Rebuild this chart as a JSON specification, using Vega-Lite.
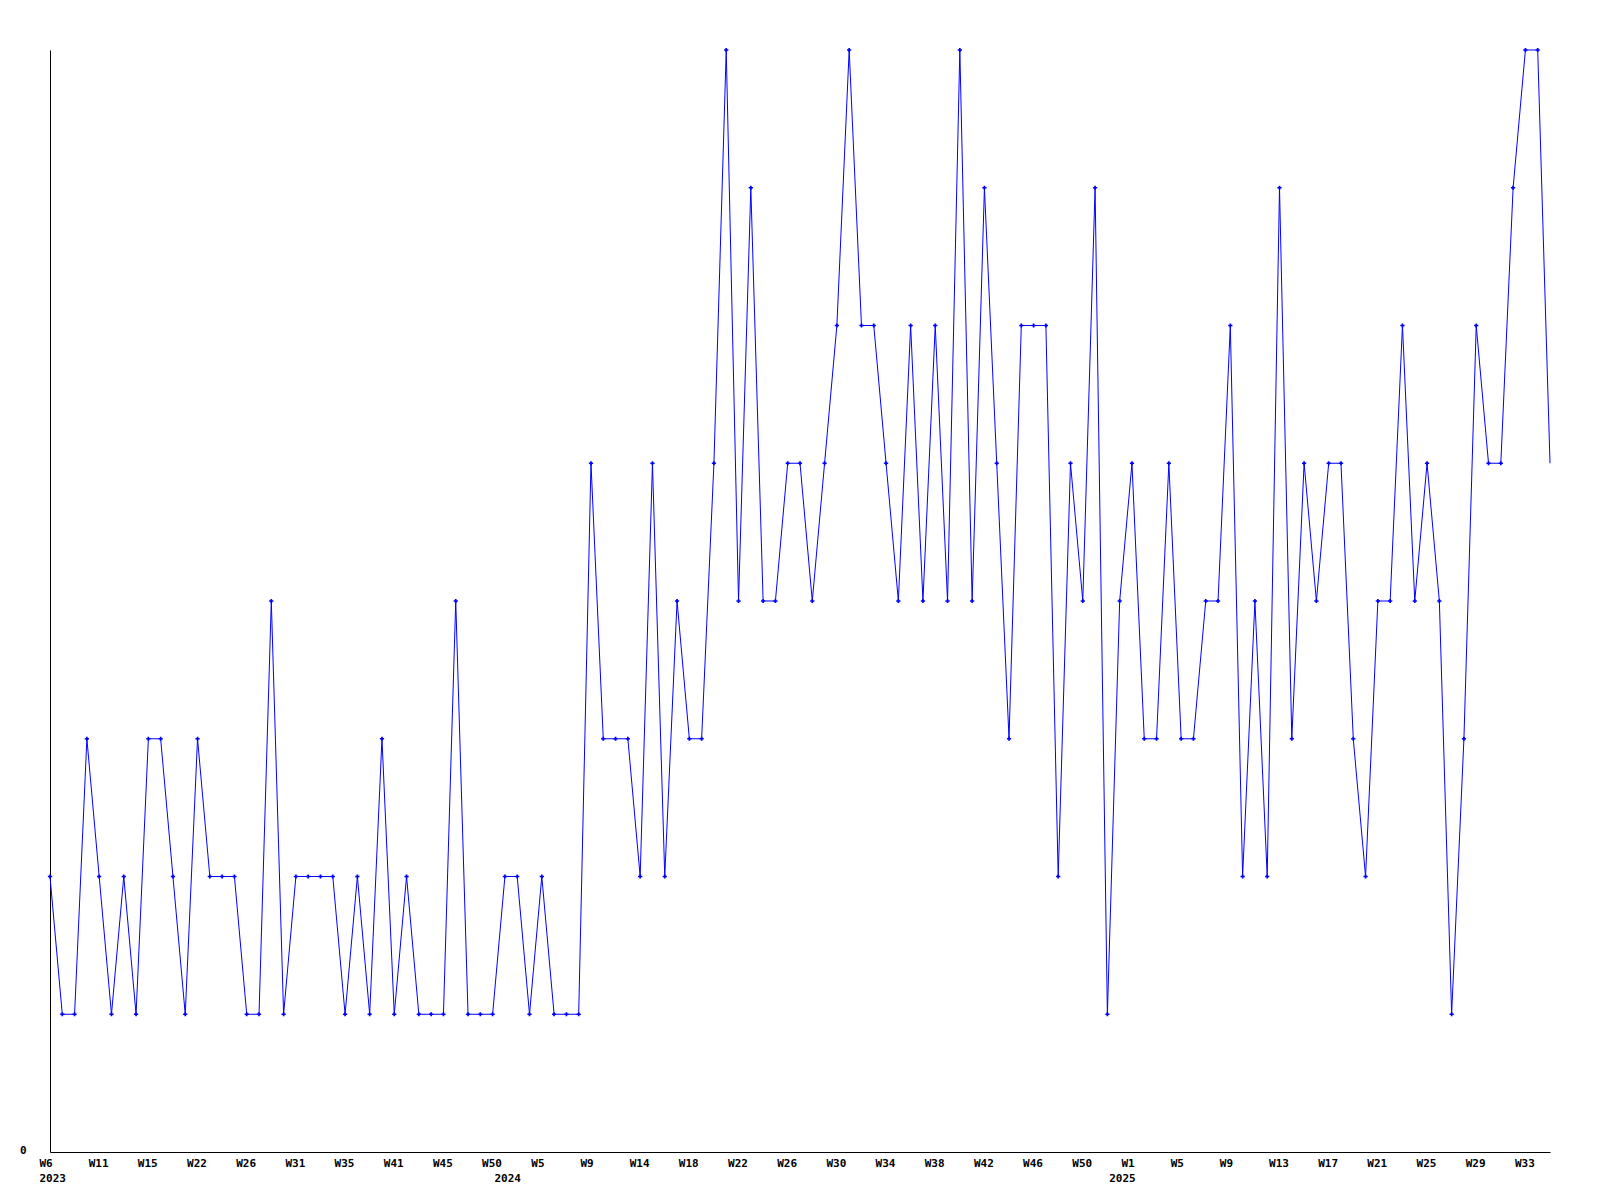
{
  "$schema": "https://vega.github.io/schema/vega-lite/v6.json",
  "autosize": {"type": "none"},
  "width": 1500,
  "height": 1102,
  "padding": {"left": 50, "top": 50, "right": 50, "bottom": 48},
  "background": "white",
  "config": {"view": {"stroke": null}},
  "data": {"values": [
    {"i":0,"v":2},{"i":1,"v":1},{"i":2,"v":1},{"i":3,"v":3},{"i":4,"v":2},{"i":5,"v":1},{"i":6,"v":2},{"i":7,"v":1},{"i":8,"v":3},{"i":9,"v":3},
    {"i":10,"v":2},{"i":11,"v":1},{"i":12,"v":3},{"i":13,"v":2},{"i":14,"v":2},{"i":15,"v":2},{"i":16,"v":1},{"i":17,"v":1},{"i":18,"v":4},{"i":19,"v":1},
    {"i":20,"v":2},{"i":21,"v":2},{"i":22,"v":2},{"i":23,"v":2},{"i":24,"v":1},{"i":25,"v":2},{"i":26,"v":1},{"i":27,"v":3},{"i":28,"v":1},{"i":29,"v":2},
    {"i":30,"v":1},{"i":31,"v":1},{"i":32,"v":1},{"i":33,"v":4},{"i":34,"v":1},{"i":35,"v":1},{"i":36,"v":1},{"i":37,"v":2},{"i":38,"v":2},{"i":39,"v":1},
    {"i":40,"v":2},{"i":41,"v":1},{"i":42,"v":1},{"i":43,"v":1},{"i":44,"v":5},{"i":45,"v":3},{"i":46,"v":3},{"i":47,"v":3},{"i":48,"v":2},{"i":49,"v":5},
    {"i":50,"v":2},{"i":51,"v":4},{"i":52,"v":3},{"i":53,"v":3},{"i":54,"v":5},{"i":55,"v":8},{"i":56,"v":4},{"i":57,"v":7},{"i":58,"v":4},{"i":59,"v":4},
    {"i":60,"v":5},{"i":61,"v":5},{"i":62,"v":4},{"i":63,"v":5},{"i":64,"v":6},{"i":65,"v":8},{"i":66,"v":6},{"i":67,"v":6},{"i":68,"v":5},{"i":69,"v":4},
    {"i":70,"v":6},{"i":71,"v":4},{"i":72,"v":6},{"i":73,"v":4},{"i":74,"v":8},{"i":75,"v":4},{"i":76,"v":7},{"i":77,"v":5},{"i":78,"v":3},{"i":79,"v":6},
    {"i":80,"v":6},{"i":81,"v":6},{"i":82,"v":2},{"i":83,"v":5},{"i":84,"v":4},{"i":85,"v":7},{"i":86,"v":1},{"i":87,"v":4},{"i":88,"v":5},{"i":89,"v":3},
    {"i":90,"v":3},{"i":91,"v":5},{"i":92,"v":3},{"i":93,"v":3},{"i":94,"v":4},{"i":95,"v":4},{"i":96,"v":6},{"i":97,"v":2},{"i":98,"v":4},{"i":99,"v":2},
    {"i":100,"v":7},{"i":101,"v":3},{"i":102,"v":5},{"i":103,"v":4},{"i":104,"v":5},{"i":105,"v":5},{"i":106,"v":3},{"i":107,"v":2},{"i":108,"v":4},{"i":109,"v":4},
    {"i":110,"v":6},{"i":111,"v":4},{"i":112,"v":5},{"i":113,"v":4},{"i":114,"v":1},{"i":115,"v":3},{"i":116,"v":6},{"i":117,"v":5},{"i":118,"v":5},{"i":119,"v":7},
    {"i":120,"v":8},{"i":121,"v":8},{"i":122,"v":5}
  ]},
  "encoding": {
    "x": {
      "field": "i", "type": "quantitative",
      "scale": {"domain": [0, 122], "nice": false, "zero": false},
      "axis": {
        "title": null, "grid": false, "ticks": false, "tickSize": 0,
        "domainColor": "black", "domainWidth": 1,
        "values": [0,4,8,12,16,20,24,28,32,36,37,40,44,48,52,56,60,64,68,72,76,80,84,87,88,92,96,100,104,108,112,116,120],
        "labelExpr": "datum.value == 37 ? ['', '2024'] : datum.value == 87 ? ['', '2025'] : [['W6','2023'],'W11','W15','W22','W26','W31','W35','W41','W45','W50','W5','W9','W14','W18','W22','W26','W30','W34','W38','W42','W46','W50','W1','W5','W9','W13','W17','W21','W25','W29','W33'][round(datum.value/4)]",
        "labelFont": "DejaVu Sans Mono", "labelFontSize": 11, "labelFontWeight": "bold",
        "labelColor": "black", "labelPadding": 5, "labelLineHeight": 15,
        "labelBaseline": "top", "labelAlign": "left", "labelOffset": -11,
        "labelOverlap": false, "labelFlush": false
      }
    },
    "y": {
      "field": "v", "type": "quantitative",
      "scale": {"domain": [0, 8], "nice": false},
      "axis": {
        "title": null, "grid": false, "ticks": false, "tickSize": 0,
        "domainColor": "black", "domainWidth": 1,
        "values": [0],
        "labelFont": "DejaVu Sans Mono", "labelFontSize": 11, "labelFontWeight": "bold",
        "labelColor": "black", "labelPadding": 24, "labelOffset": -2
      }
    }
  },
  "layer": [
    {"mark": {"type": "line", "color": "#0000ff", "strokeWidth": 1}},
    {
      "transform": [{"filter": "datum.i < 122"}],
      "mark": {"type": "point", "shape": "cross", "size": 18, "filled": true, "color": "#0000ff", "opacity": 1}
    }
  ]
}
